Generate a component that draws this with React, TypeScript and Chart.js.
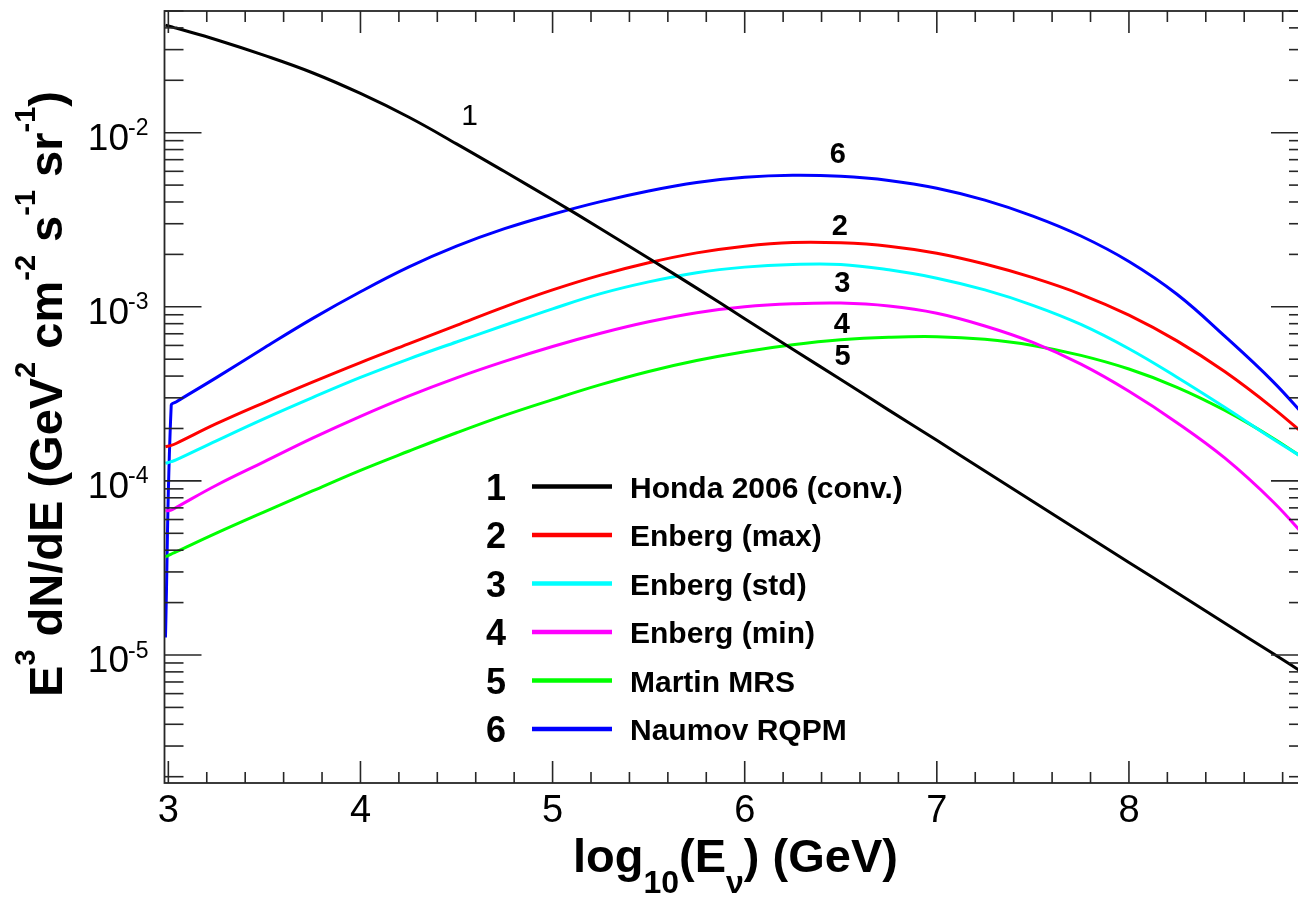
import React, { useEffect, useRef } from "react";
import { Chart, registerables } from "chart.js";

Chart.register(...registerables);

// log10(E_nu / GeV)
const energies = [2.985, 3.015, 3.04, 3.25, 3.5, 3.75, 4.0, 4.25, 4.5, 4.75, 5.0, 5.25, 5.5, 5.75, 6.0, 6.25, 6.5, 6.75, 7.0, 7.25, 7.5, 7.75, 8.0, 8.25, 8.5, 8.75, 8.93];

// E^3 dN/dE  (GeV^2 cm^-2 s^-1 sr^-1)
const honda2006 = [4.15e-2, 4.06e-2, 3.99e-2, 3.42e-2, 2.78e-2, 2.21e-2, 1.68e-2, 1.23e-2, 8.63e-3, 5.98e-3, 4.12e-3, 2.81e-3, 1.90e-3, 1.28e-3, 8.55e-4, 5.71e-4, 3.82e-4, 2.55e-4, 1.71e-4, 1.14e-4, 7.62e-5, 5.09e-5, 3.40e-5, 2.28e-5, 1.52e-5, 1.02e-5, 7.60e-6];
const enbergMax = [1.57e-4, 1.60e-4, 1.64e-4, 2.13e-4, 2.82e-4, 3.69e-4, 4.78e-4, 6.12e-4, 7.83e-4, 1.00e-3, 1.25e-3, 1.52e-3, 1.79e-3, 2.04e-3, 2.23e-3, 2.34e-3, 2.33e-3, 2.23e-3, 2.03e-3, 1.76e-3, 1.47e-3, 1.18e-3, 8.95e-4, 6.37e-4, 4.23e-4, 2.62e-4, 1.78e-4];
const enbergStd = [1.26e-4, 1.29e-4, 1.32e-4, 1.70e-4, 2.28e-4, 3.01e-4, 3.93e-4, 5.01e-4, 6.28e-4, 7.83e-4, 9.73e-4, 1.19e-3, 1.39e-3, 1.57e-3, 1.69e-3, 1.75e-3, 1.75e-3, 1.63e-3, 1.46e-3, 1.25e-3, 1.02e-3, 7.92e-4, 5.74e-4, 3.94e-4, 2.64e-4, 1.74e-4, 1.31e-4];
const enbergMin = [6.73e-5, 6.79e-5, 7.03e-5, 9.44e-5, 1.29e-4, 1.76e-4, 2.35e-4, 3.07e-4, 3.91e-4, 4.86e-4, 5.92e-4, 7.05e-4, 8.20e-4, 9.25e-4, 1.00e-3, 1.04e-3, 1.05e-3, 1.01e-3, 9.18e-4, 7.76e-4, 6.24e-4, 4.68e-4, 3.27e-4, 2.16e-4, 1.35e-4, 7.59e-5, 4.62e-5];
const martinMRS = [3.66e-5, 3.80e-5, 3.91e-5, 5.01e-5, 6.64e-5, 8.75e-5, 1.15e-4, 1.48e-4, 1.89e-4, 2.38e-4, 2.93e-4, 3.57e-4, 4.25e-4, 4.91e-4, 5.52e-4, 6.05e-4, 6.46e-4, 6.68e-4, 6.73e-4, 6.50e-4, 6.00e-4, 5.26e-4, 4.39e-4, 3.45e-4, 2.54e-4, 1.76e-4, 1.30e-4];
const naumovRQPM = [1.26e-5, 2.72e-4, 2.84e-4, 3.92e-4, 5.82e-4, 8.55e-4, 1.22e-3, 1.69e-3, 2.23e-3, 2.81e-3, 3.40e-3, 4.02e-3, 4.63e-3, 5.18e-3, 5.55e-3, 5.70e-3, 5.62e-3, 5.32e-3, 4.80e-3, 4.10e-3, 3.32e-3, 2.55e-3, 1.82e-3, 1.18e-3, 6.76e-4, 3.72e-4, 2.26e-4];

const seriesNames = ["Honda 2006 (conv.)", "Enberg (max)", "Enberg (std)", "Enberg (min)", "Martin MRS", "Naumov RQPM"];
const seriesNumbers = ["1", "2", "3", "4", "5", "6"];
const seriesColors = ["#000000", "#ff0000", "#00ffff", "#ff00ff", "#00ff00", "#0000ff"];

// curve number labels, placed in data coordinates
const curveLabelX = [4.568, 6.495, 6.508, 6.505, 6.51, 6.484];
const curveLabelY = [1.27e-2, 2.97e-3, 1.40e-3, 8.09e-4, 5.33e-4, 7.7e-3];

const xMin = 2.98;
const xMax = 8.932;
const yMin = 1.84e-6;
const yMax = 0.05;
const xMajorTicks = [3, 4, 5, 6, 7, 8];
const yMajorTicks = [1e-2, 1e-3, 1e-4, 1e-5];
const yTickExponents = ["-2", "-3", "-4", "-5"];

const FONT = "'Liberation Sans', Arial, Helvetica, sans-serif";

const rootStyle = {
  id: "rootStyle",
  afterDatasetsDraw(chart: any) {
    const { ctx, chartArea: a, scales } = chart;
    const xs = scales.x;
    const ys = scales.y;
    ctx.save();

    // ticks (inward, all four sides)
    ctx.strokeStyle = "#262626";
    ctx.lineWidth = 1.6;
    const seg = (x1: number, y1: number, x2: number, y2: number) => {
      ctx.beginPath();
      ctx.moveTo(x1, y1);
      ctx.lineTo(x2, y2);
      ctx.stroke();
    };
    for (let i = 0; ; i++) {
      const v = Math.round((3 + i * 0.2) * 10) / 10;
      if (v > xMax + 1e-9) break;
      const major = Math.abs(v - Math.round(v)) < 1e-6;
      const px = xs.getPixelForValue(v);
      const len = major ? 22 : 11;
      seg(px, a.bottom, px, a.bottom - len);
      seg(px, a.top, px, a.top + len);
    }
    for (let n = -6; n <= -1; n++) {
      for (let k = 1; k <= 9; k++) {
        const v = k * Math.pow(10, n);
        if (v < yMin || v > yMax) continue;
        const py = ys.getPixelForValue(v);
        const len = k === 1 ? 37 : 19;
        seg(a.left, py, a.left + len, py);
        seg(a.right, py, a.right - len, py);
      }
    }
    ctx.lineWidth = 1.8;
    ctx.strokeRect(a.left, a.top, a.right - a.left, a.bottom - a.top);

    ctx.fillStyle = "#000";
    // y tick labels
    yMajorTicks.forEach((v, i) => {
      const py = ys.getPixelForValue(v);
      ctx.font = `37px ${FONT}`;
      ctx.textAlign = "right";
      ctx.textBaseline = "alphabetic";
      ctx.fillText("10", 129, py + 17);
      ctx.font = `23px ${FONT}`;
      ctx.textAlign = "left";
      ctx.fillText(yTickExponents[i], 128, py + 2.5);
    });
    // x tick labels
    ctx.font = `38px ${FONT}`;
    ctx.textAlign = "center";
    xMajorTicks.forEach((v) => {
      ctx.fillText(String(v), xs.getPixelForValue(v), 822);
    });

    // x title
    ctx.textAlign = "left";
    const xParts: [string, boolean][] = [["log", false], ["10", true], ["(E", false], ["\u03bd", true], [") (GeV)", false]];
    let cx = 573;
    xParts.forEach(([t, sub]) => {
      ctx.font = sub ? `bold 32px ${FONT}` : `bold 47px ${FONT}`;
      ctx.fillText(t, cx, sub ? 893 : 872);
      cx += ctx.measureText(t).width;
    });

    // y title (rotated)
    const yParts: [string, boolean][] = [["E", false], ["3", true], [" dN/dE (GeV", false], ["2", true], [" cm", false], ["-2", true], [" s", false], ["-1", true], [" sr", false], ["-1", true], [")", false]];
    let total = 0;
    yParts.forEach(([t, sup]) => {
      ctx.font = sup ? `bold 29px ${FONT}` : `bold 47px ${FONT}`;
      total += ctx.measureText(t).width;
    });
    ctx.save();
    ctx.translate(62, 394 + total / 2);
    ctx.rotate(-Math.PI / 2);
    let tx = 0;
    yParts.forEach(([t, sup]) => {
      ctx.font = sup ? `bold 29px ${FONT}` : `bold 47px ${FONT}`;
      ctx.fillText(t, tx, sup ? -27 : 0);
      tx += ctx.measureText(t).width;
    });
    ctx.restore();

    // curve number labels
    ctx.textAlign = "center";
    seriesNumbers.forEach((num, i) => {
      ctx.font = i === 0 ? `30px ${FONT}` : `bold 29px ${FONT}`;
      const px = xs.getPixelForValue(curveLabelX[i]);
      const py = ys.getPixelForValue(curveLabelY[i]);
      ctx.fillText(num, px, py + 10.5);
    });

    // legend
    const rowY0 = 486.5;
    const rowStep = 48.5;
    seriesNames.forEach((name, i) => {
      const y = rowY0 + i * rowStep;
      ctx.font = `bold 36px ${FONT}`;
      ctx.textAlign = "center";
      ctx.fillText(seriesNumbers[i], 496, y + 13);
      ctx.strokeStyle = seriesColors[i];
      ctx.lineWidth = 4.5;
      seg(532, y, 612, y);
      ctx.font = `bold 30px ${FONT}`;
      ctx.textAlign = "left";
      ctx.fillText(name, 630, y + 11);
    });

    ctx.restore();
  },
};

export default function App() {
  const canvasRef = useRef<HTMLCanvasElement | null>(null);

  useEffect(() => {
    const canvas = canvasRef.current;
    if (!canvas) return;
    const series = [honda2006, enbergMax, enbergStd, enbergMin, martinMRS, naumovRQPM];
    const chart = new Chart(canvas, {
      type: "line",
      data: {
        datasets: series.map((vals, i) => ({
          label: seriesNames[i],
          data: energies.map((x, j) => ({ x, y: vals[j] })),
          borderColor: seriesColors[i],
          backgroundColor: seriesColors[i],
          borderWidth: 3,
          pointRadius: 0,
          fill: false,
          tension: 0.4,
        })),
      },
      options: {
        animation: false,
        responsive: false,
        maintainAspectRatio: false,
        events: [],
        layout: { padding: { left: 164.5, top: 11, right: 2, bottom: 115 } },
        scales: {
          x: { type: "linear", min: xMin, max: xMax, display: false },
          y: { type: "logarithmic", min: yMin, max: yMax, display: false },
        },
        plugins: {
          legend: { display: false },
          tooltip: { enabled: false },
        },
      },
      plugins: [rootStyle],
    });
    return () => chart.destroy();
  }, []);

  return (
    <div
      style={{
        position: "fixed",
        left: 0,
        top: 0,
        width: 1298,
        height: 898,
        overflow: "hidden",
        background: "#fff",
      }}
    >
      <canvas ref={canvasRef} width={1310} height={898} style={{ display: "block", width: 1310, height: 898 }} />
    </div>
  );
}
